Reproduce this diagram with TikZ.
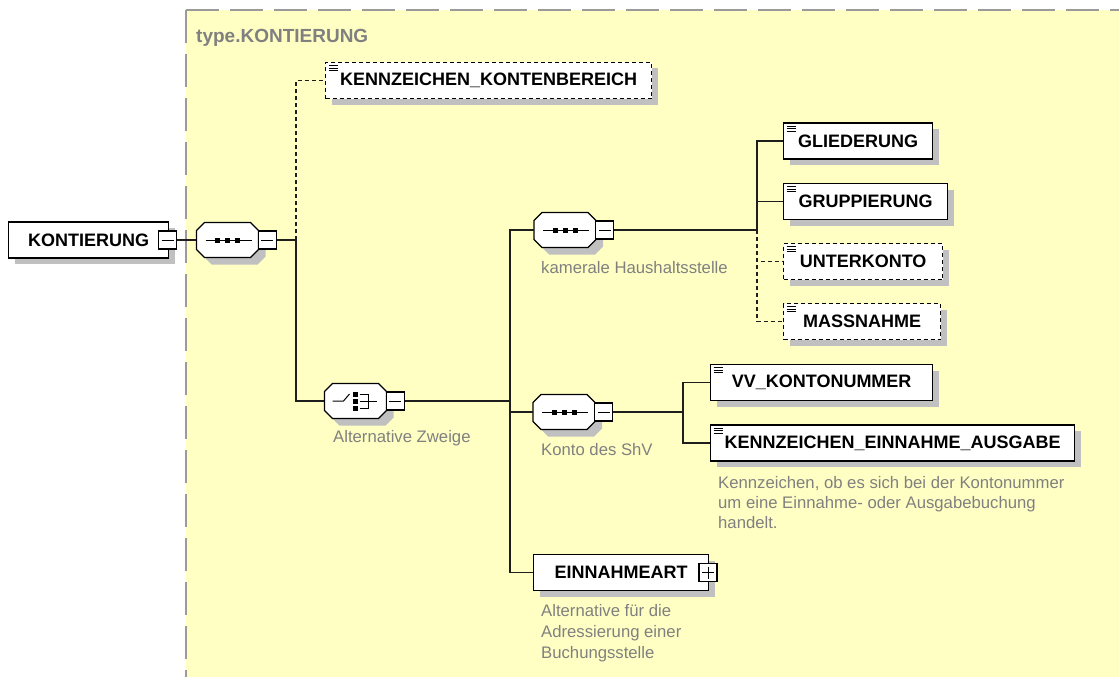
\documentclass[tikz,border=0pt]{standalone}
\usepackage{fontspec}
\setmainfont{Liberation Sans}
\usepackage{xcolor}
\usepackage{tikz}
\usetikzlibrary{calc,shadows}
\definecolor{schemayellow}{HTML}{FFFFC4}
\definecolor{framegrey}{HTML}{9A9A9A}
\definecolor{notegrey}{HTML}{808080}
\definecolor{shadowgrey}{HTML}{C0C0C0}
\definecolor{linkblack}{HTML}{1E1E1E}
\tikzset{
  boxshadow/.style = {drop shadow={shadow xshift=6pt, shadow yshift=-6pt,
                      fill=shadowgrey, opacity=1}},
  elem/.style      = {draw=black, line width=1.3pt, fill=white, inner sep=0pt,
                      minimum height=36pt, anchor=west, boxshadow,
                      font=\fontsize{18}{20}\selectfont\bfseries},
  simple elem/.style = {elem, path picture={
                      \foreach \k in {0,1,2}
                        \draw[black, line width=0.9pt, solid]
                          ($(path picture bounding box.north west)+(3,3+2.5*\k)$) -- ++(9,0);}},
  optional elem/.style = {simple elem, dash pattern=on 4pt off 3pt},
  compositor/.style = {inner sep=0pt, minimum width=62pt, minimum height=35pt},
  octagon/.style   = {insert path={(-23,-17.5) -- (23,-17.5) -- (31,-9.5) -- (31,9.5)
                      -- (23,17.5) -- (-23,17.5) -- (-31,9.5) -- (-31,-9.5) -- cycle}},
  toggle/.style    = {draw=black, line width=1.2pt, fill=white, inner sep=0pt,
                      minimum width=18pt, minimum height=18pt},
  minus box/.style = {toggle, path picture={
                      \draw[line width=1pt] ([xshift=3pt]path picture bounding box.west)
                        -- ([xshift=-3pt]path picture bounding box.east);}},
  plus box/.style  = {toggle, path picture={
                      \draw[line width=1pt] ([xshift=3pt]path picture bounding box.west)
                        -- ([xshift=-3pt]path picture bounding box.east);
                      \draw[line width=1pt] ([yshift=-3pt]path picture bounding box.north)
                        -- ([yshift=3pt]path picture bounding box.south);}},
  note/.style      = {text=notegrey, inner sep=0pt, anchor=base west,
                      font=\fontsize{16.7}{20}\selectfont},
  link/.style      = {linkblack, line width=1.3pt},
  optional link/.style = {link, dash pattern=on 4pt off 3pt},
  frame/.style     = {framegrey, line width=2pt, dash pattern=on 33pt off 11pt},
  compositor frame/.pic = {
    \fill[shadowgrey, shift={(7,7)}, octagon];
    \filldraw[fill=white, draw=black, line width=1.3pt, octagon];
  },
  sequence/.pic    = {
    \pic {compositor frame};
    \draw[line width=1pt] (-22,0) -- (24,0);
    \foreach \dx in {-10,0,10}
      \fill (\dx-2.5,-2.5) rectangle ++(5,5);
  },
  choice/.pic      = {
    \pic {compositor frame};
    \draw[line width=1pt] (-23,0) -- (-12,0) -- (-6,-7);
    \foreach \dy in {-7,0,7}
      \fill (-2.5,\dy-2.5) rectangle ++(5,5);
    \draw[line width=1pt] (4,-7) -- (13,-7) -- (13,7) -- (4,7) (4,0) -- (21,0);
  },
}

\begin{document}
\begin{tikzpicture}[x=1pt, y=-1pt]
  \useasboundingbox (0,0) rectangle (1119,677);
  % type frame
  \fill[schemayellow] (186,10) rectangle (1125,685);
  \draw[frame] (186,10) -- (1125,10);
  \draw[frame] (186,10) -- (186,685);
  \node[note, font=\fontsize{19}{20}\selectfont\bfseries] (type label) at (196,43) {type.KONTIERUNG};

  % root element and first sequence
  \node[elem, minimum width=160pt] (kontierung) at (8,240) {KONTIERUNG};
  \node[minus box] (kontierung toggle) at (167.5,240) {};
  \node[compositor] (seq main) at (227.5,240) {};
  \pic at (seq main.center) {sequence};
  \node[minus box, anchor=west] (seq main toggle) at ([xshift=-1pt]seq main.east) {};
  \coordinate (main fork) at (296,240);

  \node[optional elem, minimum width=326pt] (kontenbereich) at (325,80.5) {KENNZEICHEN\_KONTENBEREICH};

  % choice
  \node[compositor] (choice) at (355.5,401) {};
  \pic at (choice.center) {choice};
  \node[minus box, anchor=west] (choice toggle) at ([xshift=-1pt]choice.east) {};
  \node[note] (choice label) at (333,442) {Alternative Zweige};
  \coordinate (choice fork) at (510,401);

  % kamerale Haushaltsstelle
  \node[compositor] (seq kameral) at (565,230) {};
  \pic at (seq kameral.center) {sequence};
  \node[minus box, anchor=west] (seq kameral toggle) at ([xshift=-1pt]seq kameral.east) {};
  \node[note] (kameral label) at (541,273) {kamerale Haushaltsstelle};
  \coordinate (kameral fork) at (757,230);

  \node[simple elem, minimum width=149pt] (gliederung) at (783,141) {GLIEDERUNG};
  \node[simple elem, minimum width=164pt] (gruppierung) at (783,201.5) {GRUPPIERUNG};
  \node[optional elem, minimum width=159pt] (unterkonto) at (783,261.5) {UNTERKONTO};
  \node[optional elem, minimum width=157pt] (massnahme) at (783,321.5) {MASSNAHME};

  % Konto des ShV
  \node[compositor] (seq konto) at (564,412) {};
  \pic at (seq konto.center) {sequence};
  \node[minus box, anchor=west] (seq konto toggle) at ([xshift=-1pt]seq konto.east) {};
  \node[note] (konto label) at (541,455) {Konto des ShV};
  \coordinate (konto fork) at (683,412);

  \node[simple elem, minimum width=222pt] (kontonummer) at (710,382.5) {VV\_KONTONUMMER};
  \node[simple elem, minimum width=364pt] (einnahme ausgabe) at (710,443) {KENNZEICHEN\_EINNAHME\_AUSGABE};
  \node[note, anchor=north west, align=left] (ea note) at (718,476)
    {Kennzeichen, ob es sich bei der Kontonummer\\um eine Einnahme- oder Ausgabebuchung\\handelt.};

  % Einnahmeart
  \node[elem, minimum width=175pt] (einnahmeart) at (533,572.5) {EINNAHMEART};
  \node[plus box] (einnahmeart toggle) at (708,572.5) {};
  \node[note, anchor=north west, align=left, font=\fontsize{16.7}{21}\selectfont] (ein note) at (541,604)
    {Alternative für die\\Adressierung einer\\Buchungsstelle};

  % connectors
  \draw[link] (kontierung toggle) -- (seq main);
  \draw[link] (seq main toggle) -- (main fork);
  \draw[optional link] (main fork) |- (kontenbereich.west);
  \draw[link] (main fork) |- (choice.west);
  \draw[link] (choice toggle) -- (choice fork);
  \draw[link] (choice fork) |- (seq kameral.west);
  \draw[link] (choice fork) |- (seq konto.west);
  \draw[link] (choice fork) |- (einnahmeart.west);
  \draw[link] (seq kameral toggle) -- (kameral fork);
  \draw[link] (kameral fork) |- (gliederung.west);
  \draw[link] (kameral fork) |- (gruppierung.west);
  \draw[optional link] (kameral fork) |- (unterkonto.west);
  \draw[optional link] (kameral fork) |- (massnahme.west);
  \draw[link] (seq konto toggle) -- (konto fork);
  \draw[link] (konto fork) |- (kontonummer.west);
  \draw[link] (konto fork) |- (einnahme ausgabe.west);
\end{tikzpicture}
\end{document}
